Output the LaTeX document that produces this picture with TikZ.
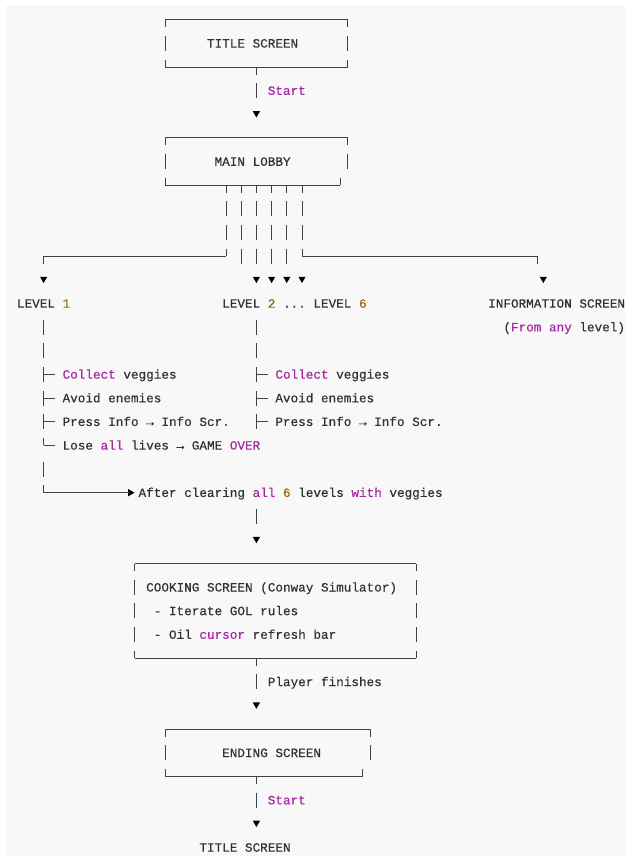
\documentclass[tikz,border=0pt]{standalone}
\usepackage{fontspec}
\setmonofont[FakeBold=0.35]{Liberation Mono}
\usetikzlibrary{shapes.geometric,calc}
\definecolor{bgc}{HTML}{F8F8F8}
\definecolor{txt}{HTML}{2F3136}
\definecolor{kwc}{HTML}{A626A4}
\definecolor{numc}{HTML}{986801}
\definecolor{ln}{HTML}{3C414C}
\newcommand{\kwd}[1]{\textcolor{kwc}{#1}}
\newcommand{\nmb}[1]{\textcolor{numc}{#1}}
\frenchspacing
\begin{document}
\begin{tikzpicture}[x=5.7pt,y=-17.7375pt,
  lbl/.style={anchor=base west,inner sep=0pt,outer sep=0pt,text=txt,font=\ttfamily\fontsize{9.5pt}{11pt}\selectfont},
  hl/.style={draw=ln,line width=0.75pt},
  vb/.style={draw=ln,line width=0.7pt,dash pattern=on 11.25pt off 6.4875pt},
  vbc/.style={vb,dash phase=5.625pt},
  tri/.style={regular polygon,regular polygon sides=3,fill=black,draw=none,inner sep=0pt,outer sep=0pt,minimum size=6.3pt},
  dtri/.style={tri,shape border rotate=180,yshift=0.75pt},
  rtri/.style={tri,shape border rotate=-90}]
\useasboundingbox (-2.737,-0.833) rectangle (79.5,35.573);
\fill[bgc] (-1.947,-0.622) rectangle (79.5,35.36);

% ---------- TITLE SCREEN box
\coordinate (t-nw) at (19,0); \coordinate (t-ne) at (43,0);
\coordinate (t-sw) at (19,2); \coordinate (t-se) at (43,2);
\coordinate (t-s) at (31,2);
\draw[hl] (t-nw) -- (t-ne);
\draw[hl] (t-sw) -- (t-se);
\draw[vbc] (t-nw) -- (t-sw);
\draw[vbc] (t-ne) -- (t-se);
\node[lbl] (title) at (24.5,1.1776) {TITLE SCREEN};

% ---------- Start -> MAIN LOBBY
\coordinate (a1) at (31,4);
\coordinate (a1top) at (31,3.6829);
\node[dtri] (a1t) at (a1) {};
\draw[vbc] (t-s) -- (a1top);
\node[lbl,text=kwc] (start1) at (32.5,3.1776) {Start};

% ---------- MAIN LOBBY box
\coordinate (m-nw) at (19,5); \coordinate (m-ne) at (43,5);
\coordinate (m-sw) at (19,7); \coordinate (m-se) at (42,7);
\coordinate (m-e) at (43,6.3171); \coordinate (m-set) at (42,6.6829);
\draw[hl] (m-nw) -- (m-ne);
\draw[hl] (m-sw) -- (m-se);
\draw[vbc] (m-nw) -- (m-sw);
\draw[vbc] (m-ne) -- (m-e);
\draw[vb] (m-set) -- (m-se);
\node[lbl] (lobby) at (25.5,6.1776) {MAIN LOBBY};

% ---------- fan-out bars
\foreach \c in {27,29,31,33,35,37} { \coordinate (b\c) at (\c,7); }
\foreach \c in {29,31,33,35} { \coordinate (e\c) at (\c,10.3171); \draw[vbc] (b\c) -- (e\c); }
\coordinate (k27) at (27,10); \coordinate (k37) at (37,10);
\draw[vbc] (b27) -- (k27);
\draw[vbc] (b37) -- (k37);
\coordinate (l1c) at (3,10); \coordinate (l1e) at (3,10.3171);
\coordinate (isc) at (68,10); \coordinate (ise) at (68,10.3171);
\draw[hl] (k27) -- (l1c);
\draw[hl] (k37) -- (isc);
\draw[vbc] (l1c) -- (l1e);
\draw[vbc] (isc) -- (ise);

% ---------- arrows row 11
\node[dtri] (a2) at (3,11) {};
\node[dtri] (a3) at (31,11) {};
\node[dtri] (a4) at (33,11) {};
\node[dtri] (a5) at (35,11) {};
\node[dtri] (a6) at (37,11) {};
\node[dtri] (a7) at (68.75,11) {};

% ---------- level row
\node[lbl] (lv1) at (-0.5,12.1776) {LEVEL \nmb{1}};
\node[lbl] (lv2) at (26.5,12.1776) {LEVEL \nmb{2} ... LEVEL \nmb{6}};
\node[lbl] (info) at (61.5,12.1776) {INFORMATION SCREEN};
\node[lbl] (infob) at (63.5,13.1776) {(\kwd{From} \kwd{any} level)};

% ---------- left tree
\coordinate (lt0) at (3,12.6829); \coordinate (lt1) at (3,18);
\draw[vb] (lt0) -- (lt1);
\foreach \r in {15,16,17,18} { \coordinate (la\r) at (3,\r); \coordinate (lb\r) at (4.5,\r); \draw[hl] (la\r) -- (lb\r); }
\node[lbl] (l15) at (5.5,15.1776) {\kwd{Collect} veggies};
\node[lbl] (l16) at (5.5,16.1776) {Avoid enemies};
\node[lbl] (l17) at (5.5,17.1776) {Press Info → Info Scr.};
\node[lbl] (l18) at (5.5,18.1776) {Lose \kwd{all} lives → GAME \kwd{OVER}};
\coordinate (lt2) at (3,18.6829); \coordinate (lt3) at (3,20);
\draw[vb] (lt2) -- (lt3);
\node[rtri] (a8) at (14.4,20) {};
\draw[hl] (lt3) -- (a8.center);
\node[lbl] (after) at (15.5,20.1776) {After clearing \kwd{all} \nmb{6} levels \kwd{with} veggies};

% ---------- right tree
\coordinate (rt0) at (31,12.6829); \coordinate (rt1) at (31,17.3171);
\draw[vb] (rt0) -- (rt1);
\foreach \r in {15,16,17} { \coordinate (ra\r) at (31,\r); \coordinate (rb\r) at (32.5,\r); \draw[hl] (ra\r) -- (rb\r); }
\node[lbl] (r15) at (33.5,15.1776) {\kwd{Collect} veggies};
\node[lbl] (r16) at (33.5,16.1776) {Avoid enemies};
\node[lbl] (r17) at (33.5,17.1776) {Press Info → Info Scr.};

% ---------- to cooking
\coordinate (c0) at (31,20.6829); \coordinate (c1) at (31,21.6829);
\draw[vb] (c0) -- (c1);
\node[dtri] (a9) at (31,22) {};

% ---------- COOKING box
\coordinate (c-nw) at (15,23); \coordinate (c-ne) at (52,23);
\coordinate (c-sw) at (15,27); \coordinate (c-se) at (52,27);
\coordinate (c-s) at (31,27);
\draw[hl] (c-nw) -- (c-ne);
\draw[hl] (c-sw) -- (c-se);
\draw[vbc] (c-nw) -- (c-sw);
\draw[vbc] (c-ne) -- (c-se);
\node[lbl] (cook) at (16.5,24.1776) {COOKING SCREEN (Conway Simulator)};
\node[lbl] (cook2) at (17.5,25.1776) {- Iterate GOL rules};
\node[lbl] (cook3) at (17.5,26.1776) {- Oil \kwd{cursor} refresh bar};

% ---------- Player finishes
\coordinate (p1) at (31,28.6829);
\draw[vbc] (c-s) -- (p1);
\node[lbl] (pf) at (32.5,28.1776) {Player finishes};
\node[dtri] (a10) at (31,29) {};

% ---------- ENDING box
\coordinate (e-nw) at (19,30); \coordinate (e-ne) at (46,30);
\coordinate (e-sw) at (19,32); \coordinate (e-se) at (45,32);
\coordinate (e-e) at (46,31.3171); \coordinate (e-set) at (45,31.6829);
\coordinate (e-s) at (31,32);
\draw[hl] (e-nw) -- (e-ne);
\draw[hl] (e-sw) -- (e-se);
\draw[vbc] (e-nw) -- (e-sw);
\draw[vbc] (e-ne) -- (e-e);
\draw[vb] (e-set) -- (e-se);
\node[lbl] (ending) at (26.5,31.1776) {ENDING SCREEN};

% ---------- Start -> TITLE SCREEN
\coordinate (s2) at (31,33.6829);
\draw[vbc] (e-s) -- (s2);
\node[lbl,text=kwc] (start2) at (32.5,33.1776) {Start};
\node[dtri] (a11) at (31,34) {};
\node[lbl] (title2) at (23.5,35.1776) {TITLE SCREEN};
\end{tikzpicture}
\end{document}
